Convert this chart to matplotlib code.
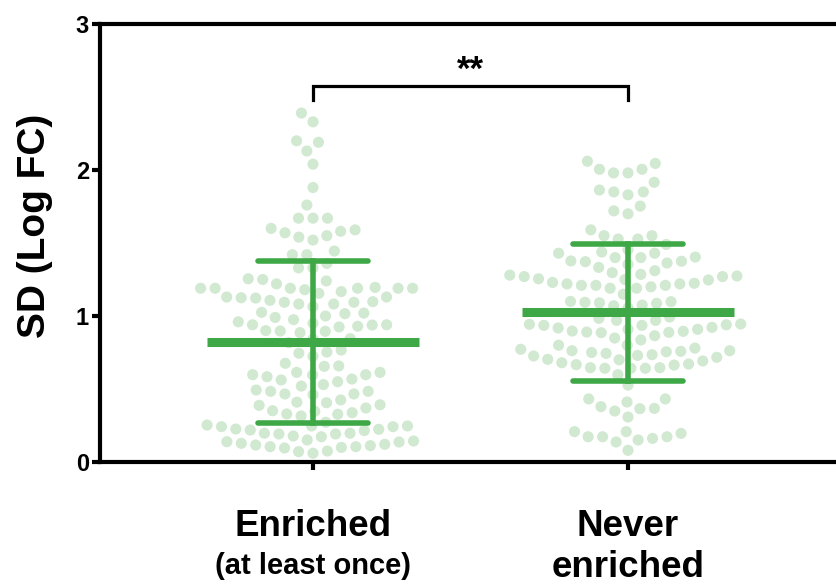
import numpy as np
import matplotlib.pyplot as plt

plt.rcParams['font.family'] = ['Liberation Sans', 'DejaVu Sans']
plt.rcParams['font.weight'] = 'bold'

# values
enriched = [2.39, 2.33, 2.20, 2.19, 2.13, 2.04, 1.88, 1.76, 1.67, 1.67, 1.67, 1.60, 1.59,
            1.58, 1.57, 1.55, 1.54, 1.52, 1.445, 1.42, 1.42, 1.36, 1.33, 1.33, 1.255, 1.25, 1.24,
            1.22, 1.196, 1.19, 1.19, 1.19, 1.18, 1.19, 1.19, 1.19, 1.167,
            1.155, 1.13, 1.13, 1.125, 1.123, 1.107, 1.098, 1.094, 1.094, 1.082, 1.082, 1.064,
            1.025, 1.02, 1.016, 1.0, 0.99, 0.975, 0.96, 0.95, 0.94, 0.94, 0.938, 0.93, 0.925,
            0.90, 0.897, 0.895, 0.886, 0.845, 0.842, 0.817,
            0.767, 0.753, 0.745, 0.724, 0.676, 0.658, 0.655,
            0.614, 0.614, 0.598, 0.598, 0.596, 0.584, 0.568, 0.562, 0.55, 0.53, 0.52,
            0.493, 0.484, 0.484, 0.466, 0.466, 0.461, 0.425,
            0.41, 0.406, 0.392, 0.388, 0.37, 0.351, 0.347, 0.338, 0.329, 0.327, 0.315,
            0.272, 0.253, 0.247, 0.247, 0.242, 0.242, 0.226, 0.224, 0.219, 0.215, 0.197, 0.197,
            0.192, 0.192, 0.178, 0.173, 0.151,
            0.144, 0.139, 0.137, 0.128, 0.121, 0.116, 0.112, 0.105, 0.105, 0.10, 0.096, 0.075,
            0.071, 0.06]
never = [2.06, 2.045, 2.005, 2.005, 1.98, 1.98, 1.916, 1.863, 1.85, 1.85, 1.83, 1.753, 1.72,
         1.70, 1.59, 1.55, 1.55, 1.527, 1.527, 1.49, 1.454, 1.438, 1.43, 1.43, 1.404, 1.40, 1.40,
         1.377, 1.375, 1.372, 1.363, 1.354, 1.333, 1.31,
         1.297, 1.285, 1.28, 1.274, 1.27, 1.27, 1.255, 1.25, 1.247, 1.23, 1.224, 1.22, 1.22,
         1.21, 1.21, 1.21, 1.20, 1.19, 1.19, 1.149,
         1.10, 1.098, 1.094, 1.09, 1.087, 1.075, 1.07, 1.055,
         0.993, 0.984, 0.97, 0.97,
         0.945, 0.943, 0.94, 0.936, 0.936, 0.922, 0.918, 0.909, 0.909, 0.897, 0.895, 0.89,
         0.888, 0.886, 0.865, 0.849, 0.836,
         0.80, 0.80, 0.78, 0.772, 0.762, 0.762, 0.758, 0.755, 0.75, 0.744, 0.735, 0.73, 0.726,
         0.717, 0.703,
         0.70, 0.692, 0.68, 0.671, 0.667, 0.664, 0.646, 0.646, 0.642, 0.642, 0.642, 0.598,
         0.527,
         0.432, 0.432, 0.411, 0.379, 0.367, 0.365, 0.349, 0.308,
         0.208, 0.208, 0.196, 0.173, 0.173, 0.173, 0.162, 0.151, 0.137, 0.08]
groups = [enriched, never]
means = [0.822, 1.025]
sds = [0.556, 0.468]

dot_color = '#d0e9d0'
line_color = '#3ea846'


def swarm(vals, d, ypx):
    # simple beeswarm in pixel space, returns x offsets in px
    vals = np.asarray(vals)
    xs = np.zeros(len(vals))
    placed = []
    for i in np.argsort(vals, kind='stable'):
        y = vals[i] * ypx
        cands = [0.0]
        for px, py in placed:
            dy = y - py
            if abs(dy) < d:
                dx = np.sqrt(d * d - dy * dy)
                cands += [px - dx, px + dx]
        cands.sort(key=abs)
        for c in cands:
            if all((c - px) ** 2 + (y - py) ** 2 >= d * d - 1e-6 for px, py in placed):
                xs[i] = c
                break
        placed.append((xs[i], y))
    return xs


fig = plt.figure(figsize=(8.37, 5.86), dpi=100)
ax = fig.add_axes([100 / 837, 124 / 586, 0.95, 438 / 586])

xmin = 1 - 213 / 315
xmax = xmin + 0.95 * 837 / 315
ax.set_xlim(xmin, xmax)
ax.set_ylim(0, 3)

ypx = 438 / 3
xpx = 315
for i, vals in enumerate(groups):
    off = swarm(vals, 14.5, ypx)
    ax.scatter(i + 1 + off / xpx, vals, s=64, color=dot_color, edgecolors='none',
               zorder=2, clip_on=False)
    pos = i + 1
    ax.plot([pos - 0.336, pos + 0.336], [means[i]] * 2, color=line_color, lw=6.5,
            solid_capstyle='butt', zorder=3)
    lo, hi = means[i] - sds[i], means[i] + sds[i]
    ax.plot([pos, pos], [lo, hi], color=line_color, lw=4, zorder=3)
    for yy in (lo, hi):
        ax.plot([pos - 0.174, pos + 0.174], [yy, yy], color=line_color, lw=4,
                solid_capstyle='round', zorder=3)

# significance bracket
ax.plot([1, 1, 2, 2], [2.48, 2.575, 2.575, 2.48], color='black', lw=2.3,
        solid_joinstyle='miter', zorder=4)
ax.text(1.5, 2.57, '**', ha='center', va='bottom', fontsize=25, fontweight='bold')

for side in ['left', 'bottom', 'top', 'right']:
    ax.spines[side].set_linewidth(3)
ax.set_yticks([0, 1, 2, 3])
ax.set_yticklabels(['0', '1', '2', '3'], fontsize=17, fontweight='bold')
ax.set_xticks([1, 2])
ax.set_xticklabels([])
ax.tick_params(axis='both', width=3, length=6, pad=2)

tr = ax.get_xaxis_transform()
ax.text(1, -0.148, 'Enriched', transform=tr, ha='center', va='center', fontsize=26.5,
        fontweight='bold')
ax.text(1, -0.237, '(at least once)', transform=tr, ha='center', va='center', fontsize=21,
        fontweight='bold')
ax.text(2, -0.148, 'Never', transform=tr, ha='center', va='center', fontsize=26.5,
        fontweight='bold')
ax.text(2, -0.242, 'enriched', transform=tr, ha='center', va='center', fontsize=26.5,
        fontweight='bold')

fig.text(35 / 837, 1 - 226 / 586, 'SD (Log FC)', rotation=90, ha='center', va='center',
         fontsize=28, fontweight='bold')

fig.savefig('out.png', dpi=100)
